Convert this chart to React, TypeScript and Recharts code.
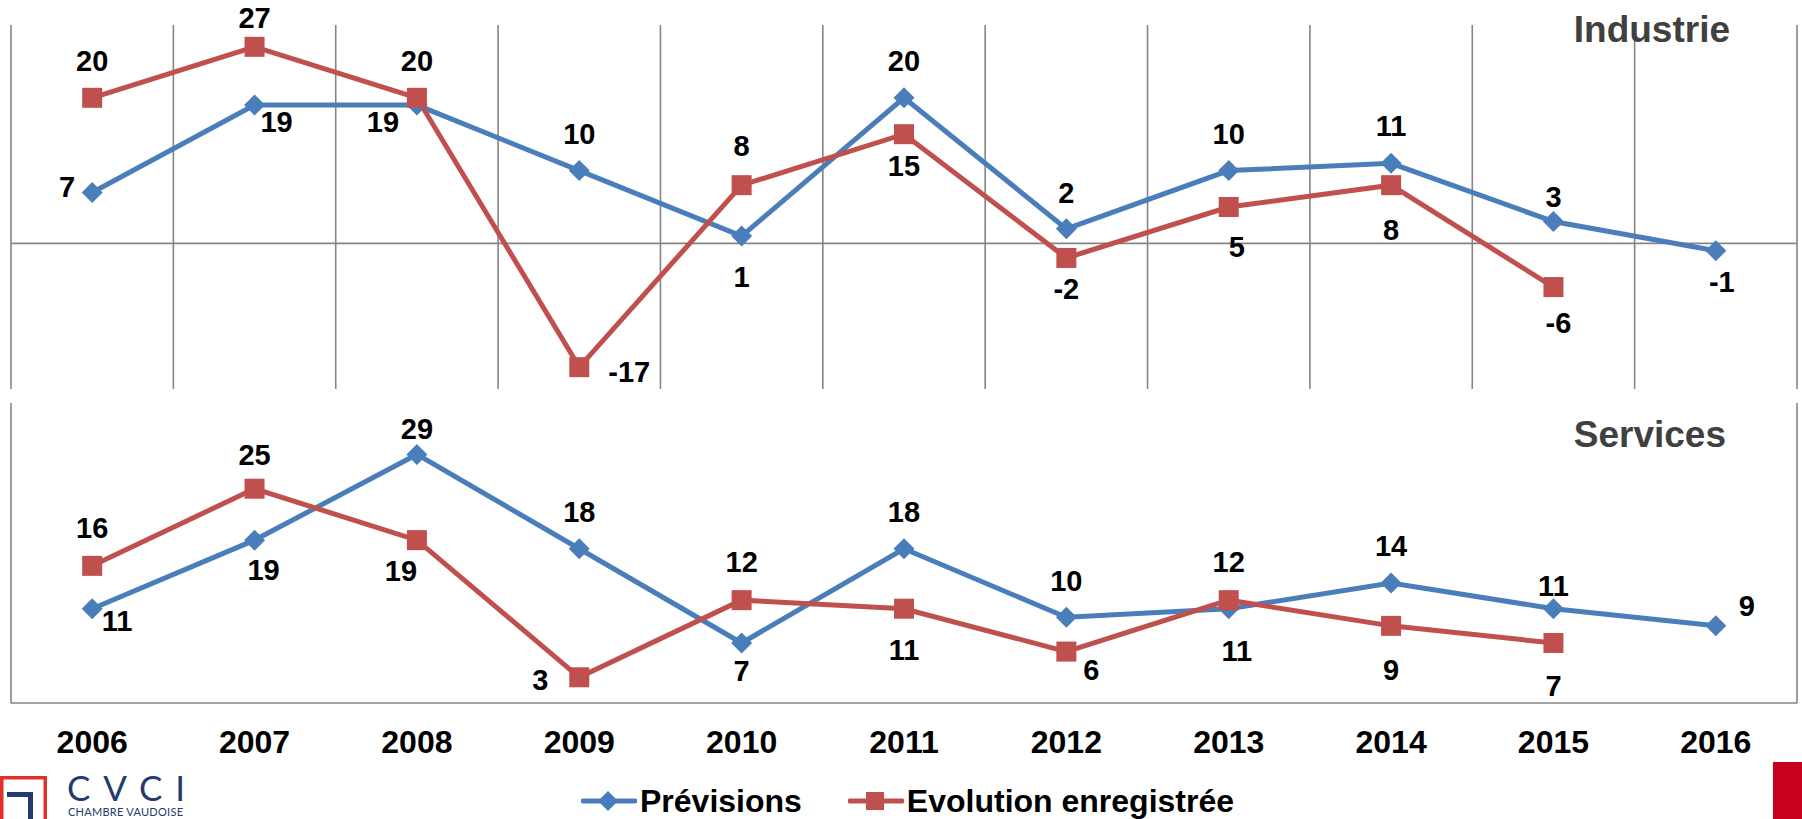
import React from "react";
import {
  LineChart,
  Line,
  XAxis,
  YAxis,
  CartesianGrid,
  ReferenceLine,
  LabelList,
  Legend,
} from "recharts";

// Categories and values
const years = ["2006", "2007", "2008", "2009", "2010", "2011", "2012", "2013", "2014", "2015", "2016"];

const industriePrevisions = [7, 19, 19, 10, 1, 20, 2, 10, 11, 3, -1];
const industrieEvolution = [20, 27, 20, -17, 8, 15, -2, 5, 8, -6, null];

const servicesPrevisions = [11, 19, 29, 18, 7, 18, 10, 11, 14, 11, 9];
const servicesEvolution = [16, 25, 19, 3, 12, 11, 6, 12, 9, 7, null];

const industrieDomain = [-20, 30];
const servicesDomain = [0, 35];

// Label placement (offset of the label centre from its point, px)
const industriePrevLabelPos = [[-25, -5], [22, 17], [-34, 17], [0, -37], [0, 41], [0, -37], [0, -36], [0, -37], [0, -37], [0, -25], [6, 31]];
const industrieEvolLabelPos = [[0, -37], [0, -29], [0, -37], [50, 5], [0, -39], [0, 32], [0, 31], [8, 40], [0, 45], [5, 36]];
const servicesPrevLabelPos = [[25, 12], [9, 30], [0, -25], [0, -37], [0, 28], [0, -37], [0, -36], [8, 42], [0, -37], [0, -23], [31, -20]];
const servicesEvolLabelPos = [[0, -38], [0, -34], [-16, 31], [-39, 3], [0, -38], [0, 41], [25, 18], [0, -38], [0, 44], [0, 43]];

const FONT = '"Liberation Sans", Arial, Helvetica, sans-serif';
const LOGO_FONT = "Lato, 'Open Sans', sans-serif";
const BLUE = "#4A7EBB";
const RED = "#C0504D";
const GRID = "#858585";
const TITLE = "#404040";
const NAVY = "#253A6E";

const W = 1802;

const industrieData = years.map((year, i) => ({
  x: i,
  year,
  prev: industriePrevisions[i],
  evol: industrieEvolution[i],
}));

const servicesData = years.map((year, i) => ({
  x: i,
  year,
  prev: servicesPrevisions[i],
  evol: servicesEvolution[i],
}));

// grid lines sit on the category boundaries, labels on the centres
const xDomain = [-0.5, years.length - 0.5];
const boundaryTicks = years.map((_, i) => i - 0.5).concat(years.length - 0.5);
const centreTicks = years.map((_, i) => i);

function Diamond(props: any) {
  const { cx, cy, value, index } = props;
  if (cx == null || cy == null || value == null) return <g key={`d-${index}`} />;
  const r = 10.5;
  return (
    <path
      key={`d-${index}`}
      d={`M${cx},${cy - r} L${cx + r},${cy} L${cx},${cy + r} L${cx - r},${cy} Z`}
      fill={BLUE}
    />
  );
}

function Square(props: any) {
  const { cx, cy, value, index } = props;
  if (cx == null || cy == null || value == null) return <g key={`s-${index}`} />;
  return <rect key={`s-${index}`} x={cx - 10} y={cy - 10} width={20} height={20} fill={RED} />;
}

const makeLabel = (positions: number[][]) => (props: any) => {
  const { value, index } = props;
  const x = props.x ?? props.viewBox?.x;
  const y = props.y ?? props.viewBox?.y;
  if (value == null || x == null || y == null) return null;
  const [dx, dy] = positions[index] ?? [0, -37];
  return (
    <text
      x={x + dx}
      y={y + dy}
      textAnchor="middle"
      dominantBaseline="central"
      fontFamily={FONT}
      fontSize={29}
      fontWeight="bold"
      fill="#000"
    >
      {value}
    </text>
  );
};

function LegendContent() {
  const item = (marker: React.ReactNode, color: string, label: string, gap: number) => (
    <div style={{ display: "flex", alignItems: "center", marginRight: gap }}>
      <svg width={56} height={40}>
        <line x1={2} y1={20} x2={54} y2={20} stroke={color} strokeWidth={5} strokeLinecap="round" />
        {marker}
      </svg>
      <span
        style={{
          fontFamily: FONT,
          fontSize: 32,
          fontWeight: "bold",
          color: "#000",
          lineHeight: "40px",
          marginLeft: 3,
          whiteSpace: "nowrap",
        }}
      >
        {label}
      </span>
    </div>
  );
  return (
    <div style={{ display: "flex", paddingLeft: 581, height: 40 }}>
      {item(<path d="M27,10 L37,20 L27,30 L17,20 Z" fill={BLUE} />, BLUE, "Prévisions", 46)}
      {item(<rect x={18} y={11} width={18} height={18} fill={RED} />, RED, "Evolution enregistrée", 0)}
    </div>
  );
}

export default function App() {
  return (
    <div
      style={{
        position: "absolute",
        left: 0,
        top: 0,
        width: W,
        height: 819,
        background: "#fff",
        overflow: "hidden",
        fontFamily: FONT,
      }}
    >
      {/* Industrie */}
      <div style={{ position: "absolute", left: 0, top: 0 }}>
        <LineChart
          width={W}
          height={395}
          data={industrieData}
          margin={{ top: 25, right: 5, bottom: 6, left: 11 }}
        >
          <CartesianGrid horizontal={false} stroke={GRID} strokeWidth={1.6} />
          <XAxis type="number" dataKey="x" domain={xDomain} ticks={boundaryTicks} hide />
          <YAxis type="number" domain={industrieDomain} hide width={0} />
          <ReferenceLine y={0} stroke={GRID} strokeWidth={1.6} />
          <Line
            dataKey="prev"
            stroke={BLUE}
            strokeWidth={5}
            dot={<Diamond />}
            activeDot={false}
            isAnimationActive={false}
          >
            <LabelList dataKey="prev" content={makeLabel(industriePrevLabelPos)} />
          </Line>
          <Line
            dataKey="evol"
            stroke={RED}
            strokeWidth={5}
            dot={<Square />}
            activeDot={false}
            isAnimationActive={false}
          >
            <LabelList dataKey="evol" content={makeLabel(industrieEvolLabelPos)} />
          </Line>
        </LineChart>
      </div>

      {/* Services */}
      <div style={{ position: "absolute", left: 0, top: 395 }}>
        <LineChart
          width={W}
          height={424}
          data={servicesData}
          margin={{ top: 8, right: 5, bottom: 67, left: 11 }}
        >
          <CartesianGrid horizontal={false} xAxisId="grid" stroke={GRID} strokeWidth={1.6} />
          <XAxis
            xAxisId="grid"
            type="number"
            dataKey="x"
            domain={xDomain}
            ticks={boundaryTicks}
            tick={false}
            tickSize={9}
            height={9}
            tickLine={{ stroke: GRID, strokeWidth: 1.6 }}
            axisLine={{ stroke: GRID, strokeWidth: 1.6 }}
          />
          <XAxis
            xAxisId="years"
            type="number"
            dataKey="x"
            domain={xDomain}
            ticks={centreTicks}
            interval={0}
            tickFormatter={(v: number) => years[v] ?? ""}
            tickSize={0}
            tickMargin={18}
            height={40}
            axisLine={false}
            tickLine={false}
            tick={{ fontSize: 32, fontWeight: "bold", fill: "#000", fontFamily: FONT }}
          />
          <YAxis type="number" domain={servicesDomain} hide width={0} />
          <Line
            xAxisId="grid"
            dataKey="prev"
            name="Prévisions"
            stroke={BLUE}
            strokeWidth={5}
            dot={<Diamond />}
            activeDot={false}
            isAnimationActive={false}
          >
            <LabelList dataKey="prev" content={makeLabel(servicesPrevLabelPos)} />
          </Line>
          <Line
            xAxisId="grid"
            dataKey="evol"
            name="Evolution enregistrée"
            stroke={RED}
            strokeWidth={5}
            dot={<Square />}
            activeDot={false}
            isAnimationActive={false}
          >
            <LabelList dataKey="evol" content={makeLabel(servicesEvolLabelPos)} />
          </Line>
          <Legend
            layout="horizontal"
            verticalAlign="middle"
            align="center"
            wrapperStyle={{ top: 386, left: 0, width: W, height: 40 }}
            content={() => <LegendContent />}
          />
        </LineChart>
      </div>

      {/* titles, logo and corner mark */}
      <svg
        width={W}
        height={819}
        style={{ position: "absolute", left: 0, top: 0, pointerEvents: "none" }}
      >
        <text x={1730} y={42} textAnchor="end" fontFamily={FONT} fontSize={37} fontWeight="bold" fill={TITLE}>
          Industrie
        </text>
        <text x={1726} y={447} textAnchor="end" fontFamily={FONT} fontSize={37} fontWeight="bold" fill={TITLE}>
          Services
        </text>

        <rect x={1.75} y={777.75} width={43.5} height={60} fill="none" stroke="#E0302A" strokeWidth={3.5} />
        <path d="M7,792 H33 V819 H28 V797 H7 Z" fill={NAVY} />
        <text x={67} y={801} textLength={118} lengthAdjust="spacing" fontFamily={LOGO_FONT} fontSize={35} fill={NAVY}>
          CVCI
        </text>
        <text x={68} y={816} textLength={115} lengthAdjust="spacing" fontFamily={LOGO_FONT} fontSize={11} fill={NAVY}>
          CHAMBRE VAUDOISE
        </text>

        <rect x={1773} y={762} width={29} height={57} fill="#C8001E" />
      </svg>
    </div>
  );
}
